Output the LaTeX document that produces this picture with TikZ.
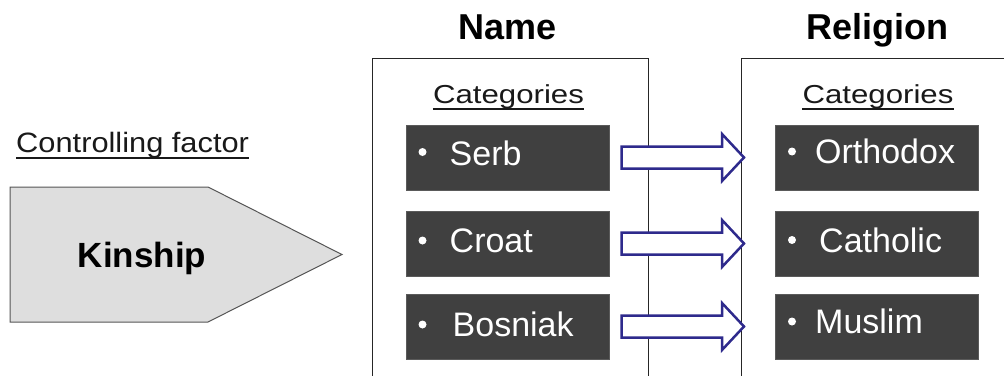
\documentclass[tikz,border=0pt]{standalone}
\usepackage{fontspec}
\setmainfont{Liberation Sans}
\usetikzlibrary{calc}
\definecolor{boxfill}{HTML}{404040}
\definecolor{boxline}{HTML}{5A5A5A}
\definecolor{arrowblue}{HTML}{2E2A8C}
\definecolor{kinfill}{HTML}{DEDEDE}
\definecolor{kinline}{HTML}{555555}
\begin{document}
\begin{tikzpicture}[x=1pt,y=-1pt,
  heading/.style={inner sep=0pt, font=\fontsize{36}{40}\selectfont\bfseries, text=black},
  frame/.style={draw=black!85, line width=1pt},
  catlabel/.style={inner sep=0pt, font=\fontsize{26}{30}\selectfont, text=black!90},
  uline/.style={draw=black!90, line width=1.3pt},
  catbox/.style={rectangle, fill=boxfill, draw=boxline, line width=1pt, minimum width=203pt, minimum height=65pt, inner sep=0pt},
  itemtext/.style={inner sep=0pt, font=\fontsize{34}{38}\selectfont, text=white},
  bulletdot/.style={circle, fill=white, inner sep=0pt, minimum size=8pt},
  barrow/.style={draw=arrowblue, fill=white, line width=2.5pt, line join=miter},
  kin/.style={fill=kinfill, draw=kinline, line width=1pt},
  kintext/.style={inner sep=0pt, font=\fontsize{35}{40}\selectfont\bfseries, text=black}]
\useasboundingbox (0,0) rectangle (1004,375);
\clip (0,0) rectangle (1004,375);

% headings
\node[heading, anchor=base] (hname) at (508,39) {Name};
\node[heading, anchor=base] (hrel) at (877.5,39) {Religion};

% frames
\draw[frame] (372,390) -- (372,58) -- (648,58) -- (648,390);
\draw[frame] (741,390) -- (741,58) -- (1010,58);

% categories labels
\node[catlabel, anchor=base] (cat1) at (508.5,103) {\scalebox{1.2}[1]{Categories}};
\draw[uline] ($(cat1.base west)+(0,6)$) -- ($(cat1.base east)+(0,6)$);
\node[catlabel, anchor=base] (cat2) at (878,103) {\scalebox{1.2}[1]{Categories}};
\draw[uline] ($(cat2.base west)+(0,6)$) -- ($(cat2.base east)+(0,6)$);

% controlling factor
\node[catlabel, anchor=base west, font=\fontsize{28}{32}\selectfont] (ctrl) at (16,152) {\scalebox{1.1}[1]{Controlling factor}};
\draw[uline] ($(ctrl.base west)+(0,6)$) -- ($(ctrl.base east)+(0,6)$);

% kinship pentagon
\draw[kin] (10,187) -- (208,187) -- (342,254.5) -- (208,322) -- (10,322) -- cycle;
\node[kintext, anchor=base] (kin) at (142,267) {Kinship};

% boxes
\node[catbox] (s1) at (507.5,157.5) {};
\node[catbox] (s2) at (507.5,243.5) {};
\node[catbox] (s3) at (507.5,326.5) {};
\node[catbox] (r1) at (877,157.5) {};
\node[catbox] (r2) at (877,243.5) {};
\node[catbox] (r3) at (877,326.5) {};

% box texts
\node[itemtext, anchor=base west] (t1) at ($(s1.west)+(44,7.5)$) {Serb};
\node[itemtext, anchor=base west] (t2) at ($(s2.west)+(44,9)$) {Croat};
\node[itemtext, anchor=base west] (t3) at ($(s3.west)+(47,10)$) {Bosniak};
\node[itemtext, anchor=base west] (u1) at ($(r1.west)+(40,5.5)$) {Orthodox};
\node[itemtext, anchor=base west] (u2) at ($(r2.west)+(44,8.5)$) {Catholic};
\node[itemtext, anchor=base west] (u3) at ($(r3.west)+(40,6.5)$) {Muslim};

% bullets
\node[bulletdot] (d1) at ($(s1.west)+(17,-5.5)$) {};
\node[bulletdot] (d2) at ($(s2.west)+(17,-3)$) {};
\node[bulletdot] (d3) at ($(s3.west)+(17,-2)$) {};
\node[bulletdot] (e1) at ($(r1.west)+(17,-6)$) {};
\node[bulletdot] (e2) at ($(r2.west)+(17,-3.5)$) {};
\node[bulletdot] (e3) at ($(r3.west)+(17,-5)$) {};

% block arrows
\foreach \a/\b in {s1/r1, s2/r2, s3/r3} {
  \draw[barrow] ($(\a.east)+(12,-11)$) -- ($(\b.west)+(-53,-11)$) -- ($(\b.west)+(-53,-23.5)$)
    -- ($(\b.west)+(-31,0)$) -- ($(\b.west)+(-53,23.5)$) -- ($(\b.west)+(-53,11)$)
    -- ($(\a.east)+(12,11)$) -- cycle;
}
\end{tikzpicture}
\end{document}
